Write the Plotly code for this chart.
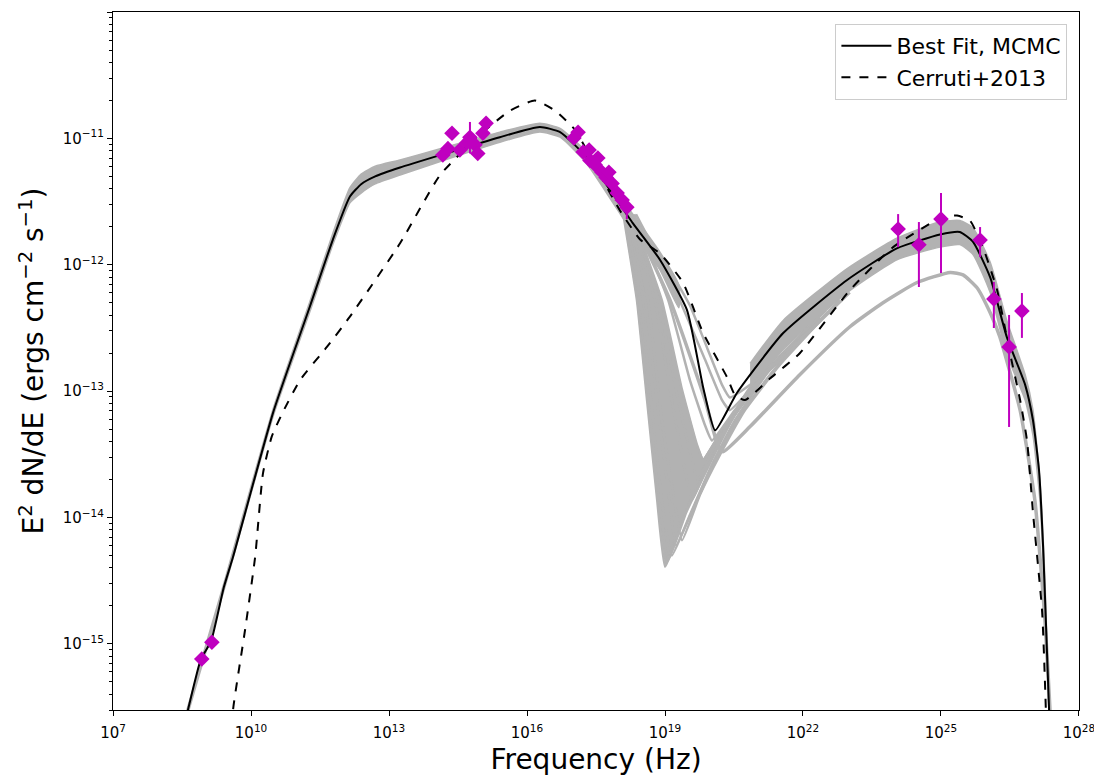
import numpy as np
import plotly.graph_objects as go

# ---------------- data (log10 values) ----------------
best_lognu = [8.45, 8.63, 8.91, 9.13, 9.41, 9.61, 10.48, 11.28, 11.78, 12.15, 12.40, 12.70, 13.24, 14.13,
              15.41, 16.28, 16.72, 17.30, 18.30, 18.89, 19.48, 19.83, 20.09, 20.57, 21.57, 22.96, 24.04,
              24.98, 25.41, 25.70, 26.07, 26.43, 26.83, 27.00, 27.13, 27.22, 27.30, 27.35, 27.38]
best_logF = [-15.78, -15.52, -15.12, -14.98, -14.55, -14.31, -13.17, -12.33, -11.80, -11.46, -11.36, -11.30,
             -11.23, -11.13, -10.99, -10.91, -10.95, -11.15, -11.67, -11.96, -12.36, -12.97, -13.31,
             -13.01, -12.54, -12.12, -11.87, -11.76, -11.74, -11.82, -12.10, -12.57, -12.95, -13.23,
             -13.62, -14.23, -15.02, -15.52, -15.80]

cerruti_lognu = [9.57, 9.61, 9.87, 10.09, 10.26, 10.45, 10.70, 11.07, 11.65, 12.15, 13.24, 14.11, 14.98,
                 15.63, 16.17, 16.61, 17.04, 17.59, 18.02, 18.46, 18.89, 19.39, 19.83, 20.35, 20.52, 20.74,
                 21.28, 21.93, 23.02, 23.96, 25.04, 25.35, 25.63, 25.91, 26.22, 26.50, 26.72, 26.87,
                 27.00, 27.20, 27.28, 27.30]
cerruti_logF = [-15.80, -15.52, -14.89, -14.31, -13.65, -13.36, -13.16, -12.91, -12.65, -12.41, -11.83,
                -11.29, -10.97, -10.78, -10.70, -10.78, -10.93, -11.29, -11.57, -11.80, -11.91, -12.14,
                -12.54, -12.89, -13.03, -13.07, -12.90, -12.70, -12.20, -11.86, -11.62, -11.61, -11.65,
                -11.86, -12.20, -12.70, -13.07, -13.39, -13.96, -14.75, -15.52, -15.80]

# MCMC spread: band below the X-ray dip
band1_lognu = [8.45, 8.63, 9.41, 10.48, 11.28, 11.78, 12.15, 12.40, 12.70, 13.24, 14.13, 15.41, 16.28, 16.72,
               17.30, 18.30, 18.89, 19.30]
band1_hi = [-15.74, -15.49, -14.52, -13.14, -12.29, -11.75, -11.39, -11.28, -11.22, -11.17, -11.08, -10.95,
            -10.88, -10.92, -11.11, -11.60, -11.90, -12.16]
band1_lo = [-15.82, -15.55, -14.58, -13.20, -12.37, -11.84, -11.51, -11.43, -11.36, -11.29, -11.18, -11.03,
            -10.95, -10.99, -11.20, -11.75, -12.04, -12.34]

# MCMC spread: band above the dip (gamma-ray hump)
band2_lognu = [20.85, 21.57, 22.96, 24.04, 24.98, 25.41, 25.70, 26.07, 26.43, 26.83, 27.00, 27.15, 27.26, 27.37]
band2_hi = [-12.78, -12.44, -12.03, -11.79, -11.66, -11.65, -11.71, -11.98, -12.44, -12.87, -13.15, -13.70,
            -14.49, -15.80]
band2_lo = [-13.00, -12.67, -12.22, -11.96, -11.86, -11.84, -11.92, -12.22, -12.71, -13.07, -13.35, -13.86,
            -14.65, -15.80]

# dense core of the dip (envelope of the deepest samples)
core_lognu = [18.09, 18.39, 18.61, 18.83, 19.00, 19.39, 19.91, 20.41, 20.52, 20.30, 19.83, 19.70, 19.37,
              18.93, 18.28]
core_logF = [-11.59, -12.28, -13.07, -13.86, -14.39, -14.00, -13.60, -13.23, -13.17, -13.27, -13.54,
             -13.43, -12.99, -12.28, -11.60]

# individual MCMC samples through the dip
sample_lognu = [
    [18.09, 18.39, 18.61, 18.83, 19.00, 19.39, 19.91, 20.41, 20.85, 21.57, 23.02],
    [18.11, 18.46, 18.67, 18.89, 19.07, 19.46, 19.98, 20.48, 21.17, 22.15],
    [18.15, 18.50, 18.74, 18.96, 19.15, 19.54, 20.02, 20.52, 21.28, 22.37],
    [18.17, 18.57, 18.85, 19.11, 19.24, 19.65, 20.11, 20.63, 21.39, 22.48],
    [18.20, 18.63, 18.93, 19.20, 19.37, 19.76, 20.20, 20.74, 21.50, 22.59],
    [18.24, 18.78, 19.15, 19.43, 19.59, 19.98, 20.52, 21.28, 22.37],
    [18.26, 18.86, 19.26, 19.57, 19.71, 20.10, 20.70, 21.50, 22.50],
    [18.28, 18.93, 19.37, 19.70, 19.83, 20.30, 20.96, 21.93],
    [18.33, 19.07, 19.54, 19.87, 20.02, 20.52, 21.39, 22.37],
    [18.37, 19.22, 19.87, 20.24, 20.41, 20.85, 21.72, 22.80],
    [18.50, 19.00, 19.54, 19.93, 20.24, 20.41, 20.85, 21.93],
]
sample_logF = [
    [-11.59, -12.28, -13.07, -13.86, -14.39, -14.00, -13.60, -13.23, -12.97, -12.73, -12.22],
    [-11.59, -12.32, -13.15, -13.90, -14.34, -13.96, -13.57, -13.21, -12.87, -12.52],
    [-11.59, -12.36, -13.23, -13.94, -14.30, -13.98, -13.58, -13.23, -12.83, -12.42],
    [-11.59, -12.28, -13.15, -13.90, -14.22, -13.90, -13.54, -13.19, -12.82, -12.40],
    [-11.59, -12.28, -13.23, -13.86, -14.18, -13.82, -13.50, -13.15, -12.79, -12.36],
    [-11.60, -12.28, -13.07, -13.62, -13.86, -13.54, -13.19, -12.82, -12.42],
    [-11.60, -12.28, -13.03, -13.52, -13.70, -13.42, -13.08, -12.72, -12.36],
    [-11.60, -12.28, -12.99, -13.43, -13.54, -13.27, -12.95, -12.59],
    [-11.60, -12.28, -12.91, -13.27, -13.39, -13.15, -12.77, -12.44],
    [-11.60, -12.20, -12.75, -13.07, -13.15, -12.99, -12.67, -12.28],
    [-11.72, -11.98, -12.32, -12.67, -12.95, -13.05, -12.95, -12.61],
]
# low outlier sample
low_lognu = [18.24, 19.11, 19.87, 20.15, 20.26, 20.85, 21.93, 23.02, 23.74, 24.48, 25.20, 25.48, 25.78,
             26.07, 26.28, 26.50, 26.72, 27.04, 27.26, 27.37, 27.40]
low_logF = [-11.60, -12.28, -13.07, -13.43, -13.48, -13.28, -12.87, -12.49, -12.30, -12.14, -12.06, -12.08,
            -12.18, -12.38, -12.57, -12.85, -13.15, -13.86, -14.81, -15.52, -15.80]

# observations (Hz, erg cm^-2 s^-1)
radio_nu = [8.5e8, 1.41e9]
radio_F = [7.6e-16, 1.03e-15]
opt_nu = [1.48e14, 1.91e14, 2.34e14, 3.47e14, 5.0e14, 5.75e14, 7.4e14, 8.5e14, 1.10e15, 1.29e15]
opt_F = [7.4e-12, 8.3e-12, 1.10e-11, 8.1e-12, 9.3e-12, 1.02e-11, 8.9e-12, 7.6e-12, 1.10e-11, 1.32e-11]
opt_F_hi = [7.4e-12, 8.3e-12, 1.10e-11, 8.1e-12, 9.3e-12, 1.35e-11, 8.9e-12, 7.6e-12, 1.10e-11, 1.32e-11]
opt_F_lo = [7.4e-12, 8.3e-12, 1.10e-11, 8.1e-12, 9.3e-12, 7.6e-12, 8.9e-12, 7.6e-12, 1.10e-11, 1.32e-11]
xray_nu = [1.05e17, 1.29e17, 1.66e17, 2.24e17, 2.34e17, 3.02e17, 3.47e17, 4.27e17, 5.25e17, 6.03e17,
           7.08e17, 9.12e17, 1.17e18, 1.48e18]
xray_F = [1.01e-11, 1.12e-11, 7.8e-12, 8.1e-12, 6.7e-12, 6.2e-12, 7.0e-12, 5.4e-12, 4.9e-12, 5.4e-12,
          4.4e-12, 3.7e-12, 3.26e-12, 2.86e-12]
xray_F_hi = list(xray_F)
xray_F_lo = [1.01e-11, 1.12e-11, 7.8e-12, 8.1e-12, 6.7e-12, 6.2e-12, 7.0e-12, 5.4e-12, 4.9e-12, 5.4e-12,
             4.4e-12, 3.7e-12, 3.26e-12, 2.3e-12]
gamma_nu = [1.17e24, 3.31e24, 1.0e25, 7.08e25, 1.41e26, 3.02e26, 5.75e26]
gamma_F = [1.92e-12, 1.44e-12, 2.30e-12, 1.57e-12, 5.36e-13, 2.24e-13, 4.31e-13]
gamma_F_hi = [2.52e-12, 2.18e-12, 3.70e-12, 1.99e-12, 7.31e-13, 4.01e-13, 5.98e-13]
gamma_F_lo = [1.38e-12, 6.67e-13, 8.61e-13, 1.15e-12, 3.16e-13, 5.21e-14, 2.64e-13]

x_tick_exp = [7, 10, 13, 16, 19, 22, 25, 28]
y_tick_exp = [-15, -14, -13, -12, -11, -10]

# ---------------- figure ----------------
GREY = "#b2b2b2"
MAG = "#bf00bf"
pw = lambda a: np.power(10.0, np.asarray(a, dtype=float))

fig = go.Figure()

for lnu, hi, lo in [(band1_lognu, band1_hi, band1_lo), (band2_lognu, band2_hi, band2_lo)]:
    xs = np.concatenate([pw(lnu), pw(lnu)[::-1]])
    ys = np.concatenate([pw(hi), pw(lo)[::-1]])
    fig.add_trace(go.Scatter(x=xs, y=ys, fill="toself", fillcolor=GREY, mode="lines",
                             line=dict(color=GREY, width=1.5, shape="spline", smoothing=0.5),
                             showlegend=False, hoverinfo="skip"))

fig.add_trace(go.Scatter(x=pw(core_lognu), y=pw(core_logF), fill="toself", fillcolor=GREY, mode="lines",
                         line=dict(color=GREY, width=1), showlegend=False, hoverinfo="skip"))

for lnu, lf in zip(sample_lognu, sample_logF):
    fig.add_trace(go.Scatter(x=pw(lnu), y=pw(lf), mode="lines",
                             line=dict(color=GREY, width=2.5, shape="spline", smoothing=0.4),
                             showlegend=False, hoverinfo="skip"))
fig.add_trace(go.Scatter(x=pw(low_lognu), y=pw(low_logF), mode="lines",
                         line=dict(color=GREY, width=3.5, shape="spline", smoothing=0.5),
                         showlegend=False, hoverinfo="skip"))

fig.add_trace(go.Scatter(x=pw(best_lognu), y=pw(best_logF), mode="lines",
                         line=dict(color="black", width=2, shape="spline", smoothing=0.5),
                         name="Best Fit, MCMC"))
fig.add_trace(go.Scatter(x=pw(cerruti_lognu), y=pw(cerruti_logF), mode="lines",
                         line=dict(color="black", width=2, dash="dash", shape="spline", smoothing=0.5),
                         name="Cerruti+2013"))

def add_points(nu, F, Fhi=None, Flo=None):
    F = np.asarray(F)
    err = None
    if Fhi is not None:
        err = dict(type="data", symmetric=False, array=np.asarray(Fhi) - F,
                   arrayminus=F - np.asarray(Flo), color=MAG, thickness=2, width=0)
    fig.add_trace(go.Scatter(x=nu, y=F, mode="markers", error_y=err,
                             marker=dict(symbol="diamond", size=12, color=MAG),
                             showlegend=False, hoverinfo="skip"))

add_points(radio_nu, radio_F)
add_points(opt_nu, opt_F, opt_F_hi, opt_F_lo)
add_points(xray_nu, xray_F, xray_F_hi, xray_F_lo)
add_points(gamma_nu, gamma_F, gamma_F_hi, gamma_F_lo)

font = "DejaVu Sans, Arial, sans-serif"
fig.update_layout(
    width=1094, height=774,
    margin=dict(l=105, r=23, t=4, b=72, autoexpand=False),
    paper_bgcolor="white", plot_bgcolor="white",
    font=dict(family=font, color="black", size=14),
    showlegend=True,
    legend=dict(x=0.988, y=0.983, xanchor="right", yanchor="top",
                bgcolor="rgba(255,255,255,0.8)", bordercolor="#cccccc", borderwidth=1,
                font=dict(size=22, family=font), itemwidth=50, tracegroupgap=0),
)
fig.update_xaxes(type="log", range=[6.9995, 28.0005],
                 tickvals=[10.0 ** e for e in x_tick_exp],
                 ticktext=[f"10<sup>{e}</sup>" for e in x_tick_exp],
                 showgrid=False, zeroline=False, showline=True, linecolor="black", linewidth=1.2,
                 mirror=True, ticks="outside", ticklen=5, tickcolor="black",
                 tickfont=dict(size=15), automargin=False, ticklabelstandoff=4,
                 title=dict(text="Frequency (Hz)", font=dict(size=28), standoff=8))
fig.update_yaxes(type="log", range=[np.log10(3e-16), -9.9995],
                 tickvals=[10.0 ** e for e in y_tick_exp],
                 ticktext=[f"10<sup>\u2212{-e}</sup>" for e in y_tick_exp],
                 showgrid=False, zeroline=False, showline=True, linecolor="black", linewidth=1.2,
                 mirror=True, ticks="outside", ticklen=5, tickcolor="black",
                 tickfont=dict(size=15), automargin=False,
                 minor=dict(ticks="outside", ticklen=3, tickcolor="black", dtick="D1", showgrid=False),
                 title=dict(text="E<sup>2</sup> dN/dE (ergs cm<sup>\u22122</sup> s<sup>\u22121</sup>)",
                            font=dict(size=28), standoff=10))

fig.write_html("out.html")
